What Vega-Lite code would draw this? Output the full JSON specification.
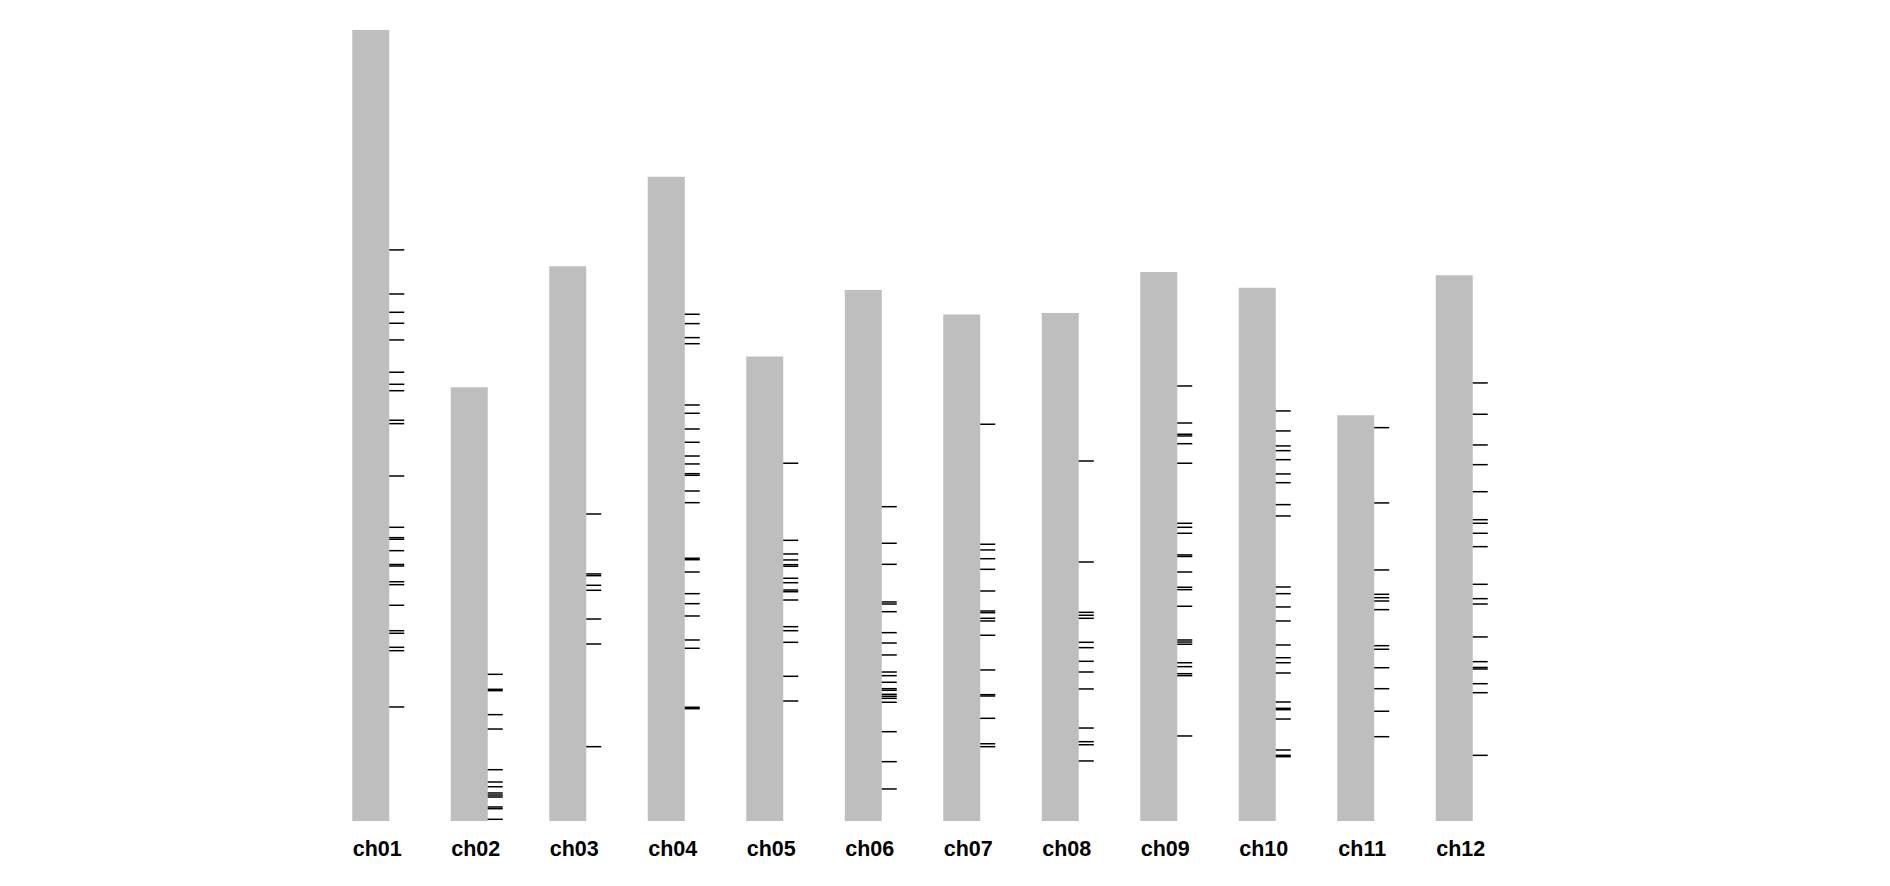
{
  "$schema": "https://vega.github.io/schema/vega-lite/v6.json",
  "width": 1182,
  "height": 791,
  "autosize": "none",
  "padding": {"left": 321.5, "top": 30, "right": 386.5, "bottom": 65},
  "background": "white",
  "config": {"view": {"stroke": null}},
  "datasets": {
    "chroms": [
      {"chrom": "ch01", "length": 88.66},
      {"chrom": "ch02", "length": 48.61},
      {"chrom": "ch03", "length": 62.19},
      {"chrom": "ch04", "length": 72.21},
      {"chrom": "ch05", "length": 52.07},
      {"chrom": "ch06", "length": 59.53},
      {"chrom": "ch07", "length": 56.76},
      {"chrom": "ch08", "length": 56.94},
      {"chrom": "ch09", "length": 61.54},
      {"chrom": "ch10", "length": 59.76},
      {"chrom": "ch11", "length": 45.48},
      {"chrom": "ch12", "length": 61.17}
    ],
    "markers": [
      {"chrom": "ch01", "pos": 64.01}, {"chrom": "ch01", "pos": 59.07}, {"chrom": "ch01", "pos": 57.02}, {"chrom": "ch01", "pos": 55.79},
      {"chrom": "ch01", "pos": 53.92}, {"chrom": "ch01", "pos": 50.30}, {"chrom": "ch01", "pos": 48.95}, {"chrom": "ch01", "pos": 48.23},
      {"chrom": "ch01", "pos": 44.92}, {"chrom": "ch01", "pos": 44.54}, {"chrom": "ch01", "pos": 38.67}, {"chrom": "ch01", "pos": 32.92},
      {"chrom": "ch01", "pos": 31.76}, {"chrom": "ch01", "pos": 31.58}, {"chrom": "ch01", "pos": 30.30}, {"chrom": "ch01", "pos": 28.75},
      {"chrom": "ch01", "pos": 28.58}, {"chrom": "ch01", "pos": 26.82}, {"chrom": "ch01", "pos": 26.49}, {"chrom": "ch01", "pos": 24.18},
      {"chrom": "ch01", "pos": 21.33}, {"chrom": "ch01", "pos": 21.04}, {"chrom": "ch01", "pos": 19.47}, {"chrom": "ch01", "pos": 19.09},
      {"chrom": "ch01", "pos": 12.78},
      {"chrom": "ch02", "pos": 16.44}, {"chrom": "ch02", "pos": 14.76}, {"chrom": "ch02", "pos": 14.61}, {"chrom": "ch02", "pos": 11.92},
      {"chrom": "ch02", "pos": 10.31}, {"chrom": "ch02", "pos": 5.75}, {"chrom": "ch02", "pos": 4.37}, {"chrom": "ch02", "pos": 3.84},
      {"chrom": "ch02", "pos": 3.14}, {"chrom": "ch02", "pos": 2.91}, {"chrom": "ch02", "pos": 2.69}, {"chrom": "ch02", "pos": 1.57},
      {"chrom": "ch02", "pos": 1.38}, {"chrom": "ch02", "pos": 0.19},
      {"chrom": "ch03", "pos": 34.41}, {"chrom": "ch03", "pos": 27.69}, {"chrom": "ch03", "pos": 27.50}, {"chrom": "ch03", "pos": 26.42},
      {"chrom": "ch03", "pos": 25.86}, {"chrom": "ch03", "pos": 22.64}, {"chrom": "ch03", "pos": 19.84}, {"chrom": "ch03", "pos": 8.33},
      {"chrom": "ch04", "pos": 56.80}, {"chrom": "ch04", "pos": 55.75}, {"chrom": "ch04", "pos": 54.18}, {"chrom": "ch04", "pos": 53.50},
      {"chrom": "ch04", "pos": 46.63}, {"chrom": "ch04", "pos": 45.70}, {"chrom": "ch04", "pos": 43.94}, {"chrom": "ch04", "pos": 42.45},
      {"chrom": "ch04", "pos": 40.91}, {"chrom": "ch04", "pos": 40.02}, {"chrom": "ch04", "pos": 38.93}, {"chrom": "ch04", "pos": 38.75},
      {"chrom": "ch04", "pos": 36.99}, {"chrom": "ch04", "pos": 35.68}, {"chrom": "ch04", "pos": 29.45}, {"chrom": "ch04", "pos": 29.29},
      {"chrom": "ch04", "pos": 27.91}, {"chrom": "ch04", "pos": 25.48}, {"chrom": "ch04", "pos": 24.36}, {"chrom": "ch04", "pos": 22.98},
      {"chrom": "ch04", "pos": 20.29}, {"chrom": "ch04", "pos": 19.36}, {"chrom": "ch04", "pos": 12.75}, {"chrom": "ch04", "pos": 12.59},
      {"chrom": "ch05", "pos": 40.10}, {"chrom": "ch05", "pos": 31.46}, {"chrom": "ch05", "pos": 29.93}, {"chrom": "ch05", "pos": 29.26},
      {"chrom": "ch05", "pos": 28.73}, {"chrom": "ch05", "pos": 28.55}, {"chrom": "ch05", "pos": 27.21}, {"chrom": "ch05", "pos": 26.71},
      {"chrom": "ch05", "pos": 25.89}, {"chrom": "ch05", "pos": 25.70}, {"chrom": "ch05", "pos": 24.77}, {"chrom": "ch05", "pos": 21.78},
      {"chrom": "ch05", "pos": 21.33}, {"chrom": "ch05", "pos": 20.03}, {"chrom": "ch05", "pos": 16.22}, {"chrom": "ch05", "pos": 13.45},
      {"chrom": "ch06", "pos": 35.23}, {"chrom": "ch06", "pos": 31.13}, {"chrom": "ch06", "pos": 28.77}, {"chrom": "ch06", "pos": 24.55},
      {"chrom": "ch06", "pos": 24.32}, {"chrom": "ch06", "pos": 23.46}, {"chrom": "ch06", "pos": 21.11}, {"chrom": "ch06", "pos": 19.95},
      {"chrom": "ch06", "pos": 18.61}, {"chrom": "ch06", "pos": 16.70}, {"chrom": "ch06", "pos": 16.29}, {"chrom": "ch06", "pos": 15.55},
      {"chrom": "ch06", "pos": 14.83}, {"chrom": "ch06", "pos": 14.65}, {"chrom": "ch06", "pos": 14.20}, {"chrom": "ch06", "pos": 13.98},
      {"chrom": "ch06", "pos": 13.75}, {"chrom": "ch06", "pos": 13.31}, {"chrom": "ch06", "pos": 10.01}, {"chrom": "ch06", "pos": 6.65},
      {"chrom": "ch06", "pos": 3.59},
      {"chrom": "ch07", "pos": 44.47}, {"chrom": "ch07", "pos": 31.02}, {"chrom": "ch07", "pos": 30.38}, {"chrom": "ch07", "pos": 29.40},
      {"chrom": "ch07", "pos": 28.21}, {"chrom": "ch07", "pos": 25.78}, {"chrom": "ch07", "pos": 23.54}, {"chrom": "ch07", "pos": 23.35},
      {"chrom": "ch07", "pos": 22.72}, {"chrom": "ch07", "pos": 22.42}, {"chrom": "ch07", "pos": 20.82}, {"chrom": "ch07", "pos": 16.93},
      {"chrom": "ch07", "pos": 14.16}, {"chrom": "ch07", "pos": 14.01}, {"chrom": "ch07", "pos": 11.51}, {"chrom": "ch07", "pos": 8.66},
      {"chrom": "ch07", "pos": 8.33},
      {"chrom": "ch08", "pos": 40.35}, {"chrom": "ch08", "pos": 29.03}, {"chrom": "ch08", "pos": 23.39}, {"chrom": "ch08", "pos": 23.06},
      {"chrom": "ch08", "pos": 22.72}, {"chrom": "ch08", "pos": 20.03}, {"chrom": "ch08", "pos": 19.43}, {"chrom": "ch08", "pos": 17.90},
      {"chrom": "ch08", "pos": 16.70}, {"chrom": "ch08", "pos": 14.80}, {"chrom": "ch08", "pos": 10.42}, {"chrom": "ch08", "pos": 8.89},
      {"chrom": "ch08", "pos": 8.55}, {"chrom": "ch08", "pos": 6.73},
      {"chrom": "ch09", "pos": 48.76}, {"chrom": "ch09", "pos": 44.61}, {"chrom": "ch09", "pos": 43.35}, {"chrom": "ch09", "pos": 43.16},
      {"chrom": "ch09", "pos": 42.29}, {"chrom": "ch09", "pos": 40.10}, {"chrom": "ch09", "pos": 33.37}, {"chrom": "ch09", "pos": 32.92},
      {"chrom": "ch09", "pos": 32.25}, {"chrom": "ch09", "pos": 29.82}, {"chrom": "ch09", "pos": 29.65}, {"chrom": "ch09", "pos": 27.91},
      {"chrom": "ch09", "pos": 26.20}, {"chrom": "ch09", "pos": 25.93}, {"chrom": "ch09", "pos": 24.07}, {"chrom": "ch09", "pos": 20.29},
      {"chrom": "ch09", "pos": 20.06}, {"chrom": "ch09", "pos": 19.81}, {"chrom": "ch09", "pos": 17.74}, {"chrom": "ch09", "pos": 17.30},
      {"chrom": "ch09", "pos": 16.51}, {"chrom": "ch09", "pos": 16.29}, {"chrom": "ch09", "pos": 9.53},
      {"chrom": "ch10", "pos": 45.96}, {"chrom": "ch10", "pos": 43.72}, {"chrom": "ch10", "pos": 42.04}, {"chrom": "ch10", "pos": 41.51},
      {"chrom": "ch10", "pos": 40.50}, {"chrom": "ch10", "pos": 38.90}, {"chrom": "ch10", "pos": 37.92}, {"chrom": "ch10", "pos": 35.46},
      {"chrom": "ch10", "pos": 34.19}, {"chrom": "ch10", "pos": 26.23}, {"chrom": "ch10", "pos": 25.48}, {"chrom": "ch10", "pos": 23.99},
      {"chrom": "ch10", "pos": 22.42}, {"chrom": "ch10", "pos": 19.73}, {"chrom": "ch10", "pos": 18.30}, {"chrom": "ch10", "pos": 17.74},
      {"chrom": "ch10", "pos": 16.59}, {"chrom": "ch10", "pos": 13.34}, {"chrom": "ch10", "pos": 12.63}, {"chrom": "ch10", "pos": 12.48},
      {"chrom": "ch10", "pos": 11.43}, {"chrom": "ch10", "pos": 7.96}, {"chrom": "ch10", "pos": 7.36}, {"chrom": "ch10", "pos": 7.21},
      {"chrom": "ch11", "pos": 44.09}, {"chrom": "ch11", "pos": 35.65}, {"chrom": "ch11", "pos": 28.14}, {"chrom": "ch11", "pos": 25.41},
      {"chrom": "ch11", "pos": 25.03}, {"chrom": "ch11", "pos": 24.66}, {"chrom": "ch11", "pos": 23.69}, {"chrom": "ch11", "pos": 19.65},
      {"chrom": "ch11", "pos": 19.25}, {"chrom": "ch11", "pos": 17.18}, {"chrom": "ch11", "pos": 14.83}, {"chrom": "ch11", "pos": 12.30},
      {"chrom": "ch11", "pos": 9.45},
      {"chrom": "ch12", "pos": 49.10}, {"chrom": "ch12", "pos": 45.59}, {"chrom": "ch12", "pos": 42.15}, {"chrom": "ch12", "pos": 39.94},
      {"chrom": "ch12", "pos": 36.91}, {"chrom": "ch12", "pos": 33.77}, {"chrom": "ch12", "pos": 33.37}, {"chrom": "ch12", "pos": 32.25},
      {"chrom": "ch12", "pos": 30.75}, {"chrom": "ch12", "pos": 26.53}, {"chrom": "ch12", "pos": 24.92}, {"chrom": "ch12", "pos": 24.32},
      {"chrom": "ch12", "pos": 20.63}, {"chrom": "ch12", "pos": 17.86}, {"chrom": "ch12", "pos": 17.21}, {"chrom": "ch12", "pos": 17.04},
      {"chrom": "ch12", "pos": 15.39}, {"chrom": "ch12", "pos": 14.38}, {"chrom": "ch12", "pos": 7.36}
    ]
  },
  "layer": [
    {
      "data": {"name": "chroms"},
      "mark": {"type": "bar", "width": 37, "color": "#BEBEBE"},
      "encoding": {
        "x": {
          "field": "chrom", "type": "nominal", "sort": null,
          "scale": {"paddingInner": 0, "paddingOuter": 0},
          "axis": {
            "title": null, "domain": false, "ticks": false, "labelAngle": 0,
            "labelFont": "Liberation Sans", "labelFontWeight": "bold", "labelFontSize": 21.5,
            "labelColor": "black", "labelPadding": 17, "labelOffset": 6.5
          }
        },
        "y": {
          "field": "length", "type": "quantitative",
          "scale": {"domain": [0, 88.66], "nice": false, "zero": true},
          "axis": null
        }
      }
    },
    {
      "data": {"name": "markers"},
      "mark": {"type": "tick", "orient": "horizontal", "size": 15, "thickness": 1.5, "color": "black", "opacity": 1, "xOffset": 26},
      "encoding": {
        "x": {"field": "chrom", "type": "nominal", "sort": null},
        "y": {"field": "pos", "type": "quantitative"}
      }
    }
  ]
}
